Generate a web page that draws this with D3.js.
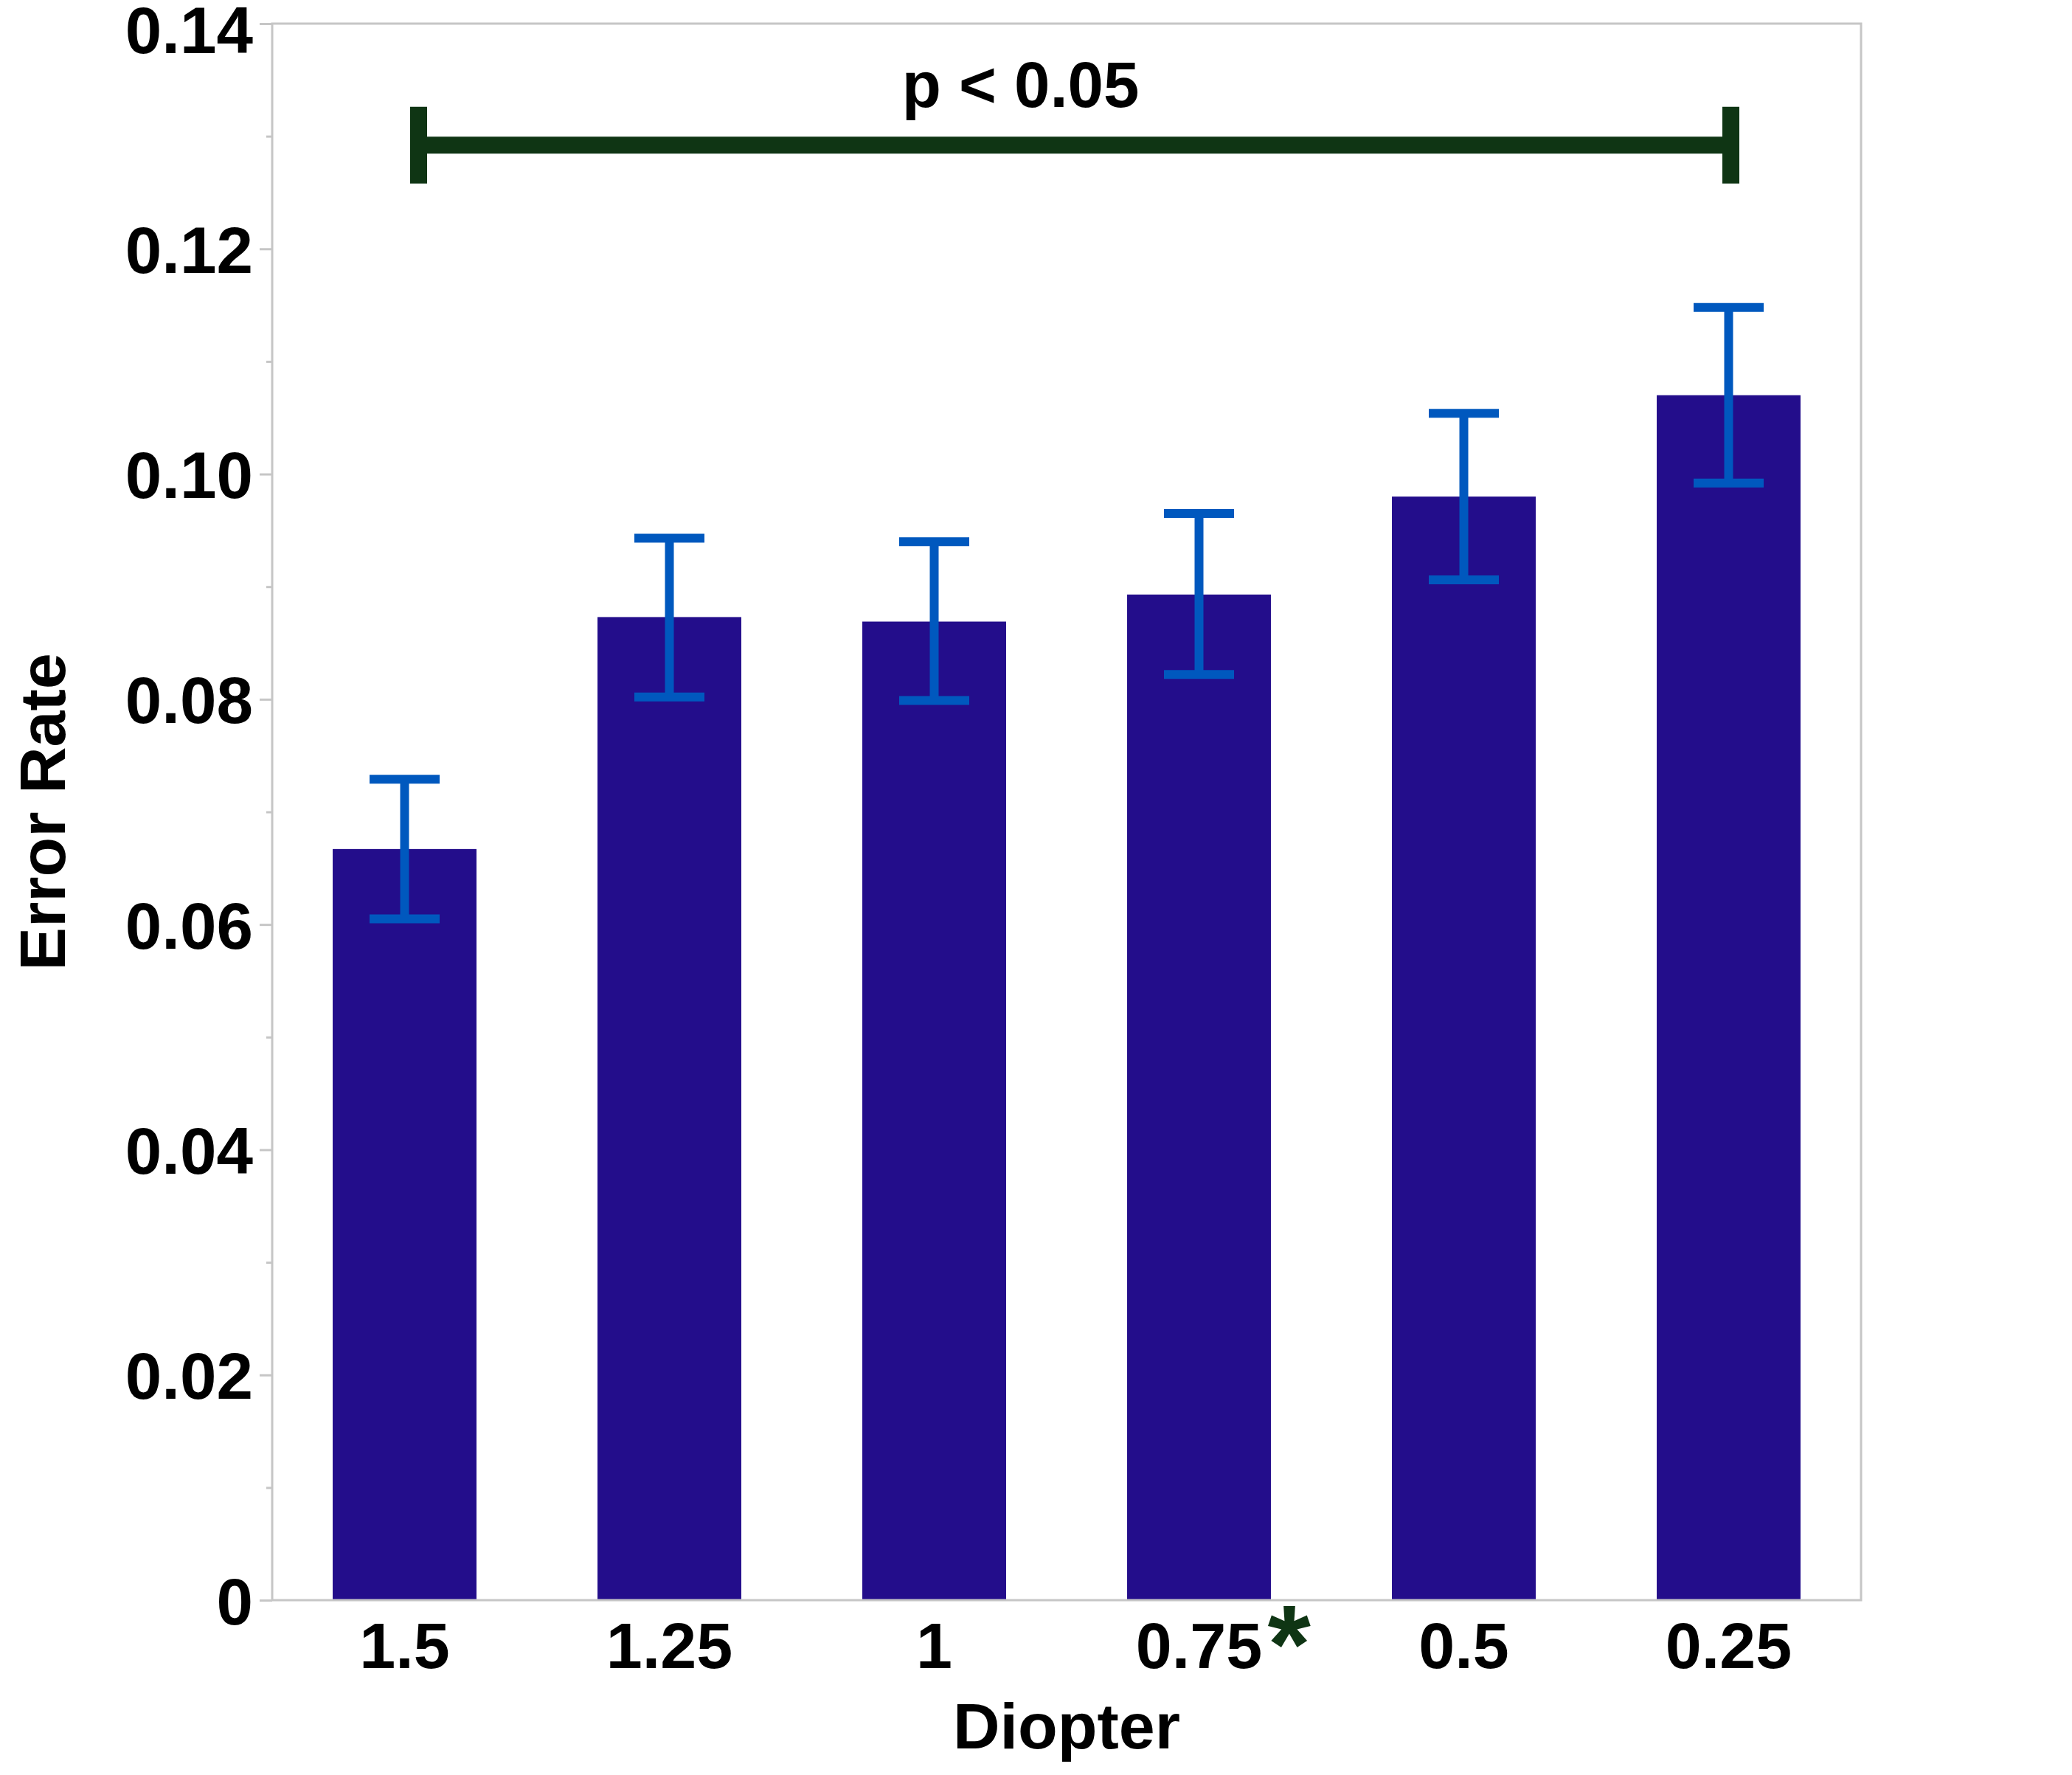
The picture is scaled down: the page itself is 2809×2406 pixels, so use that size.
<!DOCTYPE html>
<html>
<head>
<meta charset="utf-8">
<script src="https://cdn.jsdelivr.net/npm/d3@7"></script>
<style>
  body { margin: 0; background: #fff; }
  text { font-family: "Liberation Sans", Arial, Helvetica, sans-serif; font-weight: bold; }
</style>
</head>
<body>
<div id="viz"></div>
<script>

var diopters = ["1.5", "1.25", "1", "0.75", "0.5", "0.25"];
var errorRate = [0.0667, 0.0873, 0.0869, 0.0893, 0.0980, 0.1070];
var errorHigh = [0.0729, 0.0943, 0.0940, 0.0965, 0.1054, 0.1148];
var errorLow = [0.0605, 0.0802, 0.0799, 0.0822, 0.0906, 0.0992];
var yTicks = [0, 0.02, 0.04, 0.06, 0.08, 0.10, 0.12, 0.14];
var yMinorTicks = [0.01, 0.03, 0.05, 0.07, 0.09, 0.11, 0.13];
// significance bracket: from first to last diopter
var sigFrom = "1.5", sigTo = "0.25", sigLevel = 0.1292, sigLabel = "p < 0.05";
var starAt = "0.75";

var width = 2809,
    height = 2406;

var margin = {top: 32, right: 286, bottom: 237, left: 369};

var svg = d3.select("#viz").append("svg")
  .attr("width", width)
  .attr("height", height)

var x = d3.scaleBand()
  .domain(diopters)
  .range([margin.left, width - margin.right])
  .paddingInner(0.457)
  .paddingOuter(0.2285)

var y = d3.scaleLinear()
  .domain([0, 0.14])
  .range([height - margin.bottom, margin.top])

var data = diopters.map(function(d, i){
  return {d: d, v: errorRate[i], hi: errorHigh[i], lo: errorLow[i]};
})

// minor ticks first, major on top
svg.append("g")
  .attr("transform", "translate(" + margin.left + ",0)")
  .call(d3.axisLeft(y).tickValues(yMinorTicks).tickSize(8).tickFormat(""))
  .call(function(g){ g.select(".domain").remove() })
  .selectAll("line").attr("stroke", "#c6c6c6").attr("stroke-width", 3)

var yAxis = svg.append("g")
  .attr("transform", "translate(" + margin.left + ",0)")
  .call(d3.axisLeft(y).tickValues(yTicks).tickSize(17).tickPadding(9)
    .tickFormat(function(d){ return d === 0 ? "0" : d3.format(".2f")(d) }))

yAxis.select(".domain").remove()
yAxis.selectAll("line").attr("stroke", "#c6c6c6").attr("stroke-width", 3)
yAxis.selectAll("text")
  .attr("font-size", 89)
  .attr("fill", "#000")
  .attr("dy", function(d){ return d === 0.14 ? "0.44em" : "0.36em" })  // top label sits a bit lower, inside the page
  .style("font-family", null)

var xAxis = svg.append("g")
  .attr("transform", "translate(0," + (height - margin.bottom) + ")")
  .call(d3.axisBottom(x).tickSize(0).tickPadding(30))

xAxis.select(".domain").remove()
xAxis.selectAll("text")
  .attr("font-size", 88)
  .attr("fill", "#000")

svg.append("g").selectAll(".bar")
  .data(data)
  .enter()
  .append("rect")
  .attr("class", "bar")
  .attr("x", function(d){ return x(d.d) })
  .attr("width", x.bandwidth())
  .attr("y", function(d){ return y(d.v) })
  .attr("height", function(d){ return y(0) - y(d.v) })
  .attr("fill", "#230d8b")

// frame
svg.append("rect")
  .attr("x", margin.left)
  .attr("y", margin.top)
  .attr("width", width - margin.left - margin.right)
  .attr("height", height - margin.top - margin.bottom)
  .attr("fill", "none")
  .attr("stroke", "#c6c6c6")
  .attr("stroke-width", 3)

// error bars
var capHalf = 47.5;
var errs = svg.append("g")
  .attr("stroke", "#0058be")
  .attr("stroke-width", 12)

errs.selectAll(".stem")
  .data(data)
  .enter()
  .append("line")
  .attr("x1", function(d){ return x(d.d) + x.bandwidth()/2 })
  .attr("x2", function(d){ return x(d.d) + x.bandwidth()/2 })
  .attr("y1", function(d){ return y(d.hi) })
  .attr("y2", function(d){ return y(d.lo) })

errs.selectAll(".capHi")
  .data(data)
  .enter()
  .append("line")
  .attr("x1", function(d){ return x(d.d) + x.bandwidth()/2 - capHalf })
  .attr("x2", function(d){ return x(d.d) + x.bandwidth()/2 + capHalf })
  .attr("y1", function(d){ return y(d.hi) })
  .attr("y2", function(d){ return y(d.hi) })

errs.selectAll(".capLo")
  .data(data)
  .enter()
  .append("line")
  .attr("x1", function(d){ return x(d.d) + x.bandwidth()/2 - capHalf })
  .attr("x2", function(d){ return x(d.d) + x.bandwidth()/2 + capHalf })
  .attr("y1", function(d){ return y(d.lo) })
  .attr("y2", function(d){ return y(d.lo) })

// significance bracket (left end sits a little right of the 1.5 centre)
var bx1 = x(sigFrom) + x.bandwidth()/2 + 19,
    bx2 = x(sigTo) + x.bandwidth()/2 + 3,
    by = y(sigLevel);

var bracket = svg.append("g")
  .attr("stroke", "#0f3514")
  .attr("stroke-width", 23)

bracket.append("line")
  .attr("x1", bx1).attr("x2", bx2)
  .attr("y1", by).attr("y2", by)

bracket.selectAll(".end")
  .data([bx1, bx2])
  .enter()
  .append("line")
  .attr("x1", function(d){ return d }).attr("x2", function(d){ return d })
  .attr("y1", by - 52).attr("y2", by + 52)

var plotW = width - margin.left - margin.right;
svg.append("text")
  .attr("x", margin.left + plotW*0.471)
  .attr("y", by - 52)
  .attr("text-anchor", "middle")
  .attr("font-size", 87)
  .attr("fill", "#000")
  .text(sigLabel)

// asterisk next to the 0.75 tick
svg.append("text")
  .attr("x", x(starAt) + x.bandwidth()/2 + 93)
  .attr("y", height - margin.bottom + 112)
  .attr("font-size", 150)
  .attr("fill", "#0f3514")
  .text("*")

// axis titles
svg.append("text")
  .attr("x", margin.left + plotW/2)
  .attr("y", 2370)
  .attr("text-anchor", "middle")
  .attr("font-size", 88)
  .attr("fill", "#000")
  .text("Diopter")

svg.append("text")
  .attr("transform", "translate(88," + (margin.top + (height - margin.top - margin.bottom)/2) + ") rotate(-90)")
  .attr("text-anchor", "middle")
  .attr("font-size", 88)
  .attr("fill", "#000")
  .text("Error Rate")

</script>
</body>
</html>
